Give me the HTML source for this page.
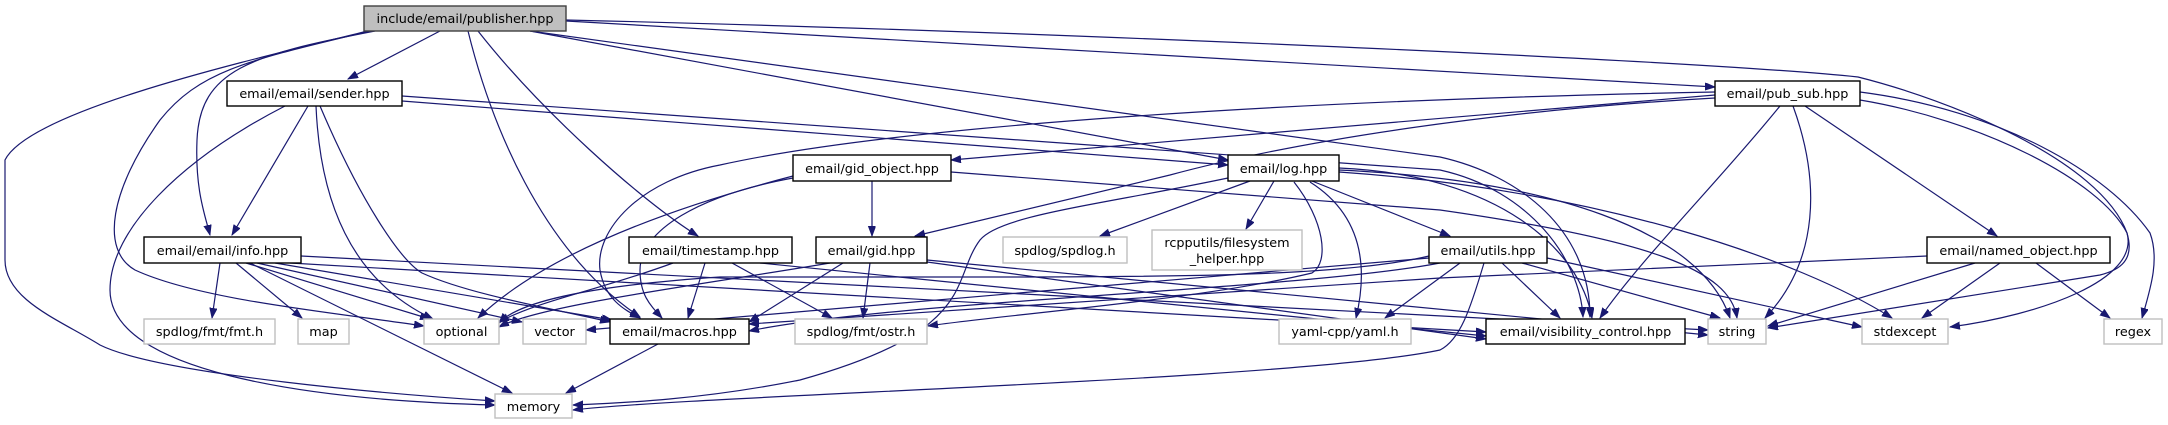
<!DOCTYPE html>
<html><head><meta charset="utf-8"><style>
html,body{margin:0;padding:0;background:#fff;}
svg{display:block;}
text{font-family:"DejaVu Sans","Liberation Sans",sans-serif;font-size:12.8px;fill:#000;text-anchor:middle;}
.e{fill:none;stroke:#191970;stroke-width:1.2;marker-end:url(#a);}
.n{fill:#fff;stroke:#000;stroke-width:1.4;}
.s{fill:#fff;stroke:#bfbfbf;stroke-width:1.4;}
</style></head><body>
<svg width="2168" height="425" viewBox="0 0 2168 425" xmlns="http://www.w3.org/2000/svg">
<defs><marker id="a" markerUnits="userSpaceOnUse" markerWidth="11" markerHeight="8" refX="10" refY="3.7" orient="auto"><path d="M0,0 L10,3.7 L0,7.4 z" fill="#191970" stroke="#191970" stroke-width="0.8"/></marker></defs>
<!-- edges -->
<g>
<path class="e" d="M440,31 L348,79"/>
<path class="e" d="M375,31 C250,55 200,70 197,140 C195,190 205,215 210,235"/>
<path class="e" d="M370,31 C250,60 200,70 160,120 C110,190 100,250 135,270 C200,300 330,312 424,326"/>
<path class="e" d="M372,30 C250,60 30,110 5,160 L5,260 C5,300 60,320 100,345 C160,375 400,395 495,401"/>
<path class="e" d="M468,31 C490,120 540,250 640,317"/>
<path class="e" d="M478,31 C540,110 640,200 698,236"/>
<path class="e" d="M530,31 L1228,160"/>
<path class="e" d="M566,21 L1715,87"/>
<path class="e" d="M530,31 L1440,157 C1520,175 1590,230 1590,317"/>
<path class="e" d="M566,20 C1000,30 1700,60 1858,77 C1950,100 2100,160 2127,233 C2135,260 2120,270 2100,275 L1768,328"/>
<path class="e" d="M308,106 L232,235"/>
<path class="e" d="M316,106 C320,200 350,280 433,319"/>
<path class="e" d="M320,106 C360,200 400,260 422,273 C470,295 560,310 610,322"/>
<path class="e" d="M285,106 C180,160 110,230 110,290 C110,370 300,400 495,405"/>
<path class="e" d="M402,101 L1228,165"/>
<path class="e" d="M402,96 L1440,170 C1530,190 1580,260 1583,317"/>
<path class="e" d="M1715,95 L951,160"/>
<path class="e" d="M1715,98 C1500,110 1300,140 1170,175 L915,236"/>
<path class="e" d="M1715,92 C1300,100 900,125 720,165 C640,180 595,230 600,270 C605,300 625,310 640,318"/>
<path class="e" d="M1780,106 C1720,180 1640,260 1600,318"/>
<path class="e" d="M1793,106 C1820,180 1820,260 1765,318"/>
<path class="e" d="M1805,106 L1997,236"/>
<path class="e" d="M1860,100 C1980,120 2100,180 2127,233 C2140,280 2040,315 1950,327"/>
<path class="e" d="M1860,92 C2000,110 2108,173 2150,233 C2160,260 2150,290 2142,318"/>
<path class="e" d="M872,181 L872,236"/>
<path class="e" d="M793,178 C700,195 640,230 640,270 C640,295 650,305 662,318"/>
<path class="e" d="M793,176 C720,195 560,240 478,318"/>
<path class="e" d="M951,172 L1440,210 C1650,240 1730,270 1737,318"/>
<path class="e" d="M1250,181 L1100,236"/>
<path class="e" d="M1274,181 L1246,229"/>
<path class="e" d="M1312,181 L1450,236"/>
<path class="e" d="M1310,182 C1370,220 1365,280 1356,318"/>
<path class="e" d="M1339,170 C1550,180 1700,230 1730,318"/>
<path class="e" d="M1339,168 C1500,175 1580,250 1592,318"/>
<path class="e" d="M1339,172 C1600,190 1800,260 1892,318"/>
<path class="e" d="M1294,182 C1324,220 1330,262 1312,273 C1200,300 1000,315 928,326"/>
<path class="e" d="M1228,178 C1100,205 1000,215 980,240 C950,280 980,330 800,380 C700,400 620,403 573,405"/>
<path class="e" d="M220,263 L212,318"/>
<path class="e" d="M236,263 L302,318"/>
<path class="e" d="M246,263 L430,319"/>
<path class="e" d="M250,263 L512,393"/>
<path class="e" d="M257,263 L522,322"/>
<path class="e" d="M275,263 L612,320"/>
<path class="e" d="M301,256 L1708,330"/>
<path class="e" d="M290,263 L1486,332"/>
<path class="e" d="M673,263 C600,290 540,300 499,322"/>
<path class="e" d="M705,263 L688,318"/>
<path class="e" d="M732,263 L832,318"/>
<path class="e" d="M760,263 L1486,336"/>
<path class="e" d="M843,263 L749,322"/>
<path class="e" d="M870,263 L863,318"/>
<path class="e" d="M927,260 L1708,335"/>
<path class="e" d="M927,262 L1486,339"/>
<path class="e" d="M830,263 C700,285 540,305 499,327"/>
<path class="e" d="M1429,256 C1350,275 1200,277 1000,277 L720,277 C600,285 520,300 499,323"/>
<path class="e" d="M1429,258 L586,330"/>
<path class="e" d="M1440,263 C1300,290 900,300 749,331"/>
<path class="e" d="M1460,263 L1385,318"/>
<path class="e" d="M1502,263 L1560,318"/>
<path class="e" d="M1522,263 L1720,318"/>
<path class="e" d="M1547,258 L1862,327"/>
<path class="e" d="M1484,263 C1470,310 1460,340 1440,350 C1300,380 700,395 573,410"/>
<path class="e" d="M1975,263 L1768,326"/>
<path class="e" d="M2000,263 L1922,318"/>
<path class="e" d="M2036,263 L2110,318"/>
<path class="e" d="M1927,256 L1440,278 L749,324"/>
<path class="e" d="M658,344 L566,393"/>
</g>
<!-- nodes -->
<rect x="364" y="6" width="202" height="25" fill="#bfbfbf" stroke="#404040" stroke-width="1.4"/><text x="465" y="23">include/email/publisher.hpp</text>
<rect class="n" x="227" y="81" width="175" height="25"/><text x="314.5" y="98">email/email/sender.hpp</text>
<rect class="n" x="1715" y="81" width="145" height="25"/><text x="1787.5" y="98">email/pub_sub.hpp</text>
<rect class="n" x="793" y="155" width="158" height="26"/><text x="872" y="173">email/gid_object.hpp</text>
<rect class="n" x="1228" y="155" width="111" height="26"/><text x="1283.5" y="173">email/log.hpp</text>
<rect class="n" x="144" y="237" width="157" height="26"/><text x="222.5" y="255">email/email/info.hpp</text>
<rect class="n" x="629" y="237" width="163" height="26"/><text x="710.5" y="255">email/timestamp.hpp</text>
<rect class="n" x="816" y="237" width="111" height="26"/><text x="871.5" y="255">email/gid.hpp</text>
<rect class="s" x="1003" y="237" width="124" height="26"/><text x="1065" y="255">spdlog/spdlog.h</text>
<rect class="s" x="1152" y="230" width="150" height="40"/><text x="1227" y="247">rcpputils/filesystem</text><text x="1227" y="263">_helper.hpp</text>
<rect class="n" x="1429" y="237" width="118" height="26"/><text x="1488" y="255">email/utils.hpp</text>
<rect class="n" x="1927" y="237" width="183" height="26"/><text x="2018.5" y="255">email/named_object.hpp</text>
<rect class="s" x="144" y="319" width="131" height="25"/><text x="209.5" y="336">spdlog/fmt/fmt.h</text>
<rect class="s" x="298" y="319" width="51" height="25"/><text x="323.5" y="336">map</text>
<rect class="s" x="424" y="319" width="75" height="25"/><text x="461.5" y="336">optional</text>
<rect class="s" x="523" y="319" width="63" height="25"/><text x="554.5" y="336">vector</text>
<rect class="n" x="610" y="319" width="139" height="25"/><text x="679.5" y="336">email/macros.hpp</text>
<rect class="s" x="795" y="319" width="132" height="25"/><text x="861" y="336">spdlog/fmt/ostr.h</text>
<rect class="s" x="1279" y="319" width="132" height="25"/><text x="1345" y="336">yaml-cpp/yaml.h</text>
<rect class="n" x="1486" y="319" width="199" height="25"/><text x="1585.5" y="336">email/visibility_control.hpp</text>
<rect class="s" x="1708" y="319" width="58" height="25"/><text x="1737" y="336">string</text>
<rect class="s" x="1862" y="319" width="86" height="25"/><text x="1905" y="336">stdexcept</text>
<rect class="s" x="2104" y="319" width="58" height="25"/><text x="2133" y="336">regex</text>
<rect class="s" x="495" y="394" width="77" height="24"/><text x="533.5" y="411">memory</text>
</svg>
</body></html>
